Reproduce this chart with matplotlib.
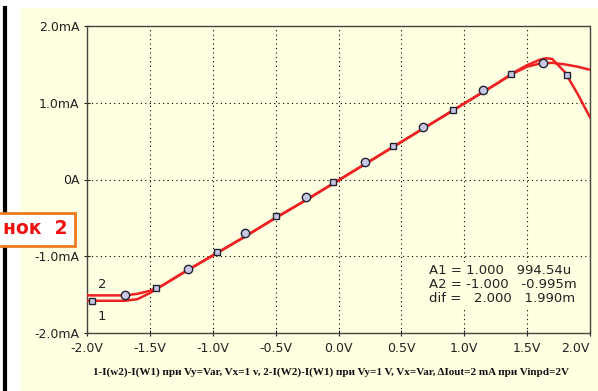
import numpy as np
import matplotlib.pyplot as plt
from matplotlib.patches import Rectangle

# curve 1: I(w2)-I(W1), Vy=Var, Vx=1 V  (mA vs V)
v1 = [-2.0, -1.8, -1.7, -1.6, -1.5, -1.4, -1.25, -1.0, -0.75, -0.5, -0.25, 0.0,
      0.25, 0.5, 0.75, 1.0, 1.25, 1.4, 1.5, 1.6, 1.65, 1.7, 1.8, 1.9, 2.0]
i1 = [-1.58, -1.58, -1.58, -1.56, -1.48, -1.38, -1.23, -0.99, -0.75, -0.50, -0.26, -0.01,
      0.24, 0.49, 0.74, 0.99, 1.24, 1.40, 1.49, 1.56, 1.58, 1.57, 1.40, 1.12, 0.81]

# curve 2: I(W2)-I(W1), Vy=1 V, Vx=Var
v2 = [-2.0, -1.8, -1.7, -1.6, -1.5, -1.4, -1.25, -1.0, -0.75, -0.5, -0.25, 0.0,
      0.25, 0.5, 0.75, 1.0, 1.25, 1.4, 1.5, 1.6, 1.7, 1.8, 1.9, 2.0]
i2 = [-1.51, -1.51, -1.51, -1.49, -1.45, -1.38, -1.23, -0.99, -0.75, -0.50, -0.26, -0.01,
      0.24, 0.49, 0.74, 0.99, 1.24, 1.39, 1.47, 1.51, 1.52, 1.50, 1.47, 1.43]

# marker points
sq_v = [-1.96, -1.45, -0.97, -0.50, -0.04, 0.43, 0.91, 1.37, 1.82]
sq_i = [-1.58, -1.42, -0.95, -0.48, -0.03, 0.44, 0.91, 1.38, 1.36]
ci_v = [-1.70, -1.20, -0.74, -0.26, 0.21, 0.67, 1.15, 1.63]
ci_i = [-1.51, -1.17, -0.70, -0.23, 0.23, 0.68, 1.16, 1.52]

xticks = [-2.0, -1.5, -1.0, -0.5, 0.0, 0.5, 1.0, 1.5, 2.0]
xlabels = ['-2.0V', '-1.5V', '-1.0V', '-0.5V', '0.0V', '0.5V', '1.0V', '1.5V', '2.0V']
yticks = [-2.0, -1.0, 0.0, 1.0, 2.0]
ylabels = ['-2.0mA', '-1.0mA', '0A', '1.0mA', '2.0mA']

bg = '#ffffe1'
red = '#ee2222'

fig = plt.figure(figsize=(5.98, 3.91), dpi=100)
fig.patch.set_facecolor('white')
fig.patches.append(Rectangle((20 / 598, 0), 1, 1 - 8 / 391, transform=fig.transFigure,
                             facecolor=bg, edgecolor='none', zorder=-5))
# black bar on the left edge
fig.add_artist(plt.Line2D([5 / 598, 5 / 598], [1 - 8 / 391, 1 - 213 / 391],
                          color='black', lw=3, transform=fig.transFigure))
fig.add_artist(plt.Line2D([5 / 598, 5 / 598], [1 - 247 / 391, 0],
                          color='black', lw=3, transform=fig.transFigure))

ax = fig.add_axes([87 / 598, 1 - 333 / 391, 503 / 598, 307 / 391])
ax.set_facecolor(bg)
ax.set_xlim(-2.0, 2.0)
ax.set_ylim(-2.0, 2.0)

for x in xticks[1:-1]:
    ax.axvline(x, color='black', lw=0.8, ls=(0, (1, 3)), zorder=1)
for y in yticks[1:-1]:
    ax.axhline(y, color='black', lw=0.8, ls=(0, (1, 3)), zorder=1)

for s in ax.spines.values():
    s.set_linestyle((0, (2, 1)))
    s.set_color('#444444')
    s.set_linewidth(1.0)

ax.plot(v1, i1, color=red, lw=1.8, zorder=3)
ax.plot(v2, i2, color=red, lw=1.8, zorder=3)
ax.plot(sq_v, sq_i, ls='none', marker='s', ms=5, mfc='#c8c8e6', mec='#222233', mew=1.0, zorder=4)
ax.plot(ci_v, ci_i, ls='none', marker='o', ms=6, mfc='#c8c8e6', mec='#222233', mew=1.0, zorder=4)

ax.set_xticks(xticks)
ax.set_xticklabels(xlabels)
ax.set_yticks(yticks)
ax.set_yticklabels(ylabels)
ax.tick_params(axis='both', labelsize=9, colors='#222222', length=5, direction='inout', width=0.8)
ax.tick_params(axis='x', pad=4)
ax.tick_params(axis='y', pad=3)
# keep the last voltage label inside the figure
ax.get_xticklabels()[-1].set_horizontalalignment('right')
ax.get_xticklabels()[-1].set_x(2.0)

ax.text(-1.88, -1.37, '2', fontsize=9.5, ha='center', va='center', color='#222222')
ax.text(-1.88, -1.79, '1', fontsize=9.5, ha='center', va='center', color='#222222')

ax.text(0.72, -1.37, 'A1 = 1.000   994.54u\nA2 = -1.000   -0.995m\ndif =   2.000   1.990m',
        fontsize=9.5, ha='left', va='center', color='#222222', linespacing=1.1,
        bbox=dict(boxstyle='square,pad=0.2', facecolor=bg, edgecolor='none'), zorder=5)

fig.text(331 / 598, 1 - 372 / 391,
         '1-I(w2)-I(W1) при Vy=Var, Vx=1 v, 2-I(W2)-I(W1) при Vy=1 V, Vx=Var, ΔIout=2 mA при Vinpd=2V',
         family=['Liberation Serif', 'DejaVu Serif'], fontweight='bold', fontsize=8.0,
         ha='center', va='center', color='#111111')

# figure label box
fig.patches.append(Rectangle((-2 / 598, 1 - 246 / 391), 77 / 598, 33 / 391, transform=fig.transFigure,
                             facecolor='white', edgecolor='#f07a1e', lw=2, zorder=5))
fig.text(3 / 598, 1 - 229 / 391, 'нок  2', fontsize=13.5, fontweight='bold', color='#ee1111',
         ha='left', va='center', zorder=6)

fig.savefig('out.png', dpi=100)
